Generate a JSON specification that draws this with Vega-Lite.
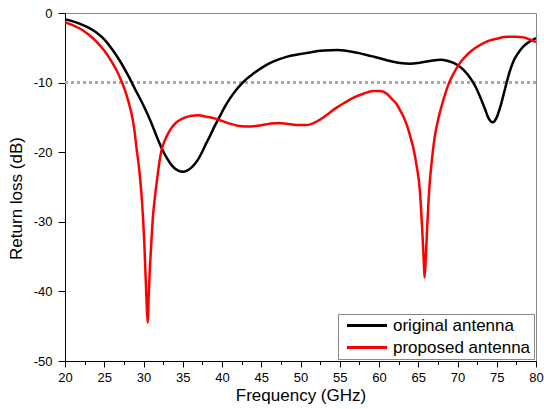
{
  "$schema": "https://vega.github.io/schema/vega-lite/v6.json",
  "width": 471,
  "height": 348,
  "autosize": {"type": "none"},
  "padding": {"left": 65, "top": 13, "right": 8, "bottom": 48},
  "background": "white",
  "config": {
    "view": {"stroke": "#888888", "strokeWidth": 1},
    "font": "Liberation Sans",
    "axis": {
      "domainColor": "#000000",
      "domainWidth": 1,
      "tickColor": "#000000",
      "labelColor": "#000000",
      "titleColor": "#000000",
      "labelFont": "Liberation Sans",
      "titleFont": "Liberation Sans",
      "labelFontSize": 13,
      "titleFontSize": 17,
      "titleFontWeight": "normal",
      "grid": false,
      "labelOverlap": false,
      "labelFlush": false
    }
  },
  "datasets": {
    "curves": [
      {"f": 20.0, "rl": -0.9, "s": "original antenna"},
      {"f": 21.0, "rl": -1.2, "s": "original antenna"},
      {"f": 22.0, "rl": -1.6, "s": "original antenna"},
      {"f": 23.0, "rl": -2.1, "s": "original antenna"},
      {"f": 24.0, "rl": -2.8, "s": "original antenna"},
      {"f": 25.0, "rl": -3.8, "s": "original antenna"},
      {"f": 26.0, "rl": -5.2, "s": "original antenna"},
      {"f": 27.0, "rl": -6.9, "s": "original antenna"},
      {"f": 28.0, "rl": -8.9, "s": "original antenna"},
      {"f": 29.0, "rl": -11.1, "s": "original antenna"},
      {"f": 30.0, "rl": -13.3, "s": "original antenna"},
      {"f": 31.0, "rl": -15.8, "s": "original antenna"},
      {"f": 31.7, "rl": -17.8, "s": "original antenna"},
      {"f": 32.3, "rl": -19.4, "s": "original antenna"},
      {"f": 33.0, "rl": -20.9, "s": "original antenna"},
      {"f": 33.6, "rl": -21.9, "s": "original antenna"},
      {"f": 34.2, "rl": -22.5, "s": "original antenna"},
      {"f": 35.0, "rl": -22.8, "s": "original antenna"},
      {"f": 35.6, "rl": -22.6, "s": "original antenna"},
      {"f": 36.2, "rl": -22.1, "s": "original antenna"},
      {"f": 36.8, "rl": -21.3, "s": "original antenna"},
      {"f": 37.5, "rl": -19.9, "s": "original antenna"},
      {"f": 38.0, "rl": -18.7, "s": "original antenna"},
      {"f": 38.5, "rl": -17.6, "s": "original antenna"},
      {"f": 39.0, "rl": -16.4, "s": "original antenna"},
      {"f": 39.7, "rl": -14.9, "s": "original antenna"},
      {"f": 40.3, "rl": -13.6, "s": "original antenna"},
      {"f": 41.0, "rl": -12.3, "s": "original antenna"},
      {"f": 41.7, "rl": -11.2, "s": "original antenna"},
      {"f": 42.4, "rl": -10.3, "s": "original antenna"},
      {"f": 43.1, "rl": -9.5, "s": "original antenna"},
      {"f": 44.0, "rl": -8.7, "s": "original antenna"},
      {"f": 45.3, "rl": -7.7, "s": "original antenna"},
      {"f": 46.5, "rl": -7.0, "s": "original antenna"},
      {"f": 48.2, "rl": -6.3, "s": "original antenna"},
      {"f": 50.0, "rl": -5.9, "s": "original antenna"},
      {"f": 51.5, "rl": -5.6, "s": "original antenna"},
      {"f": 53.0, "rl": -5.4, "s": "original antenna"},
      {"f": 54.6, "rl": -5.3, "s": "original antenna"},
      {"f": 56.0, "rl": -5.45, "s": "original antenna"},
      {"f": 57.6, "rl": -5.8, "s": "original antenna"},
      {"f": 59.0, "rl": -6.2, "s": "original antenna"},
      {"f": 60.1, "rl": -6.5, "s": "original antenna"},
      {"f": 61.4, "rl": -6.9, "s": "original antenna"},
      {"f": 62.7, "rl": -7.2, "s": "original antenna"},
      {"f": 64.0, "rl": -7.3, "s": "original antenna"},
      {"f": 65.2, "rl": -7.15, "s": "original antenna"},
      {"f": 66.5, "rl": -6.9, "s": "original antenna"},
      {"f": 67.8, "rl": -6.7, "s": "original antenna"},
      {"f": 68.8, "rl": -6.9, "s": "original antenna"},
      {"f": 69.9, "rl": -7.4, "s": "original antenna"},
      {"f": 70.8, "rl": -8.2, "s": "original antenna"},
      {"f": 71.6, "rl": -9.3, "s": "original antenna"},
      {"f": 72.3, "rl": -10.6, "s": "original antenna"},
      {"f": 72.9, "rl": -12.1, "s": "original antenna"},
      {"f": 73.5, "rl": -13.8, "s": "original antenna"},
      {"f": 73.9, "rl": -15.0, "s": "original antenna"},
      {"f": 74.5, "rl": -15.7, "s": "original antenna"},
      {"f": 75.0, "rl": -15.0, "s": "original antenna"},
      {"f": 75.5, "rl": -13.3, "s": "original antenna"},
      {"f": 76.1, "rl": -10.7, "s": "original antenna"},
      {"f": 76.6, "rl": -8.6, "s": "original antenna"},
      {"f": 77.1, "rl": -7.0, "s": "original antenna"},
      {"f": 77.7, "rl": -5.8, "s": "original antenna"},
      {"f": 78.4, "rl": -4.8, "s": "original antenna"},
      {"f": 79.2, "rl": -4.1, "s": "original antenna"},
      {"f": 80.0, "rl": -3.6, "s": "original antenna"},
      {"f": 20.0, "rl": -1.3, "s": "proposed antenna"},
      {"f": 21.0, "rl": -1.75, "s": "proposed antenna"},
      {"f": 22.0, "rl": -2.3, "s": "proposed antenna"},
      {"f": 23.0, "rl": -3.1, "s": "proposed antenna"},
      {"f": 24.0, "rl": -4.1, "s": "proposed antenna"},
      {"f": 25.0, "rl": -5.4, "s": "proposed antenna"},
      {"f": 26.0, "rl": -7.1, "s": "proposed antenna"},
      {"f": 26.6, "rl": -8.3, "s": "proposed antenna"},
      {"f": 27.2, "rl": -9.8, "s": "proposed antenna"},
      {"f": 27.7, "rl": -11.3, "s": "proposed antenna"},
      {"f": 28.1, "rl": -12.8, "s": "proposed antenna"},
      {"f": 28.5, "rl": -14.6, "s": "proposed antenna"},
      {"f": 28.8, "rl": -16.5, "s": "proposed antenna"},
      {"f": 29.1, "rl": -19.3, "s": "proposed antenna"},
      {"f": 29.5, "rl": -23.0, "s": "proposed antenna"},
      {"f": 29.8, "rl": -26.9, "s": "proposed antenna"},
      {"f": 30.1, "rl": -33.0, "s": "proposed antenna"},
      {"f": 30.3, "rl": -38.8, "s": "proposed antenna"},
      {"f": 30.45, "rl": -43.0, "s": "proposed antenna"},
      {"f": 30.55, "rl": -44.5, "s": "proposed antenna"},
      {"f": 30.65, "rl": -41.0, "s": "proposed antenna"},
      {"f": 30.8, "rl": -37.0, "s": "proposed antenna"},
      {"f": 31.0, "rl": -33.0, "s": "proposed antenna"},
      {"f": 31.2, "rl": -29.3, "s": "proposed antenna"},
      {"f": 31.45, "rl": -26.5, "s": "proposed antenna"},
      {"f": 31.7, "rl": -24.2, "s": "proposed antenna"},
      {"f": 32.0, "rl": -21.6, "s": "proposed antenna"},
      {"f": 32.3, "rl": -19.7, "s": "proposed antenna"},
      {"f": 32.8, "rl": -18.1, "s": "proposed antenna"},
      {"f": 33.4, "rl": -16.8, "s": "proposed antenna"},
      {"f": 34.2, "rl": -15.7, "s": "proposed antenna"},
      {"f": 35.1, "rl": -15.1, "s": "proposed antenna"},
      {"f": 36.0, "rl": -14.8, "s": "proposed antenna"},
      {"f": 37.0, "rl": -14.7, "s": "proposed antenna"},
      {"f": 38.0, "rl": -14.9, "s": "proposed antenna"},
      {"f": 38.9, "rl": -15.1, "s": "proposed antenna"},
      {"f": 40.0, "rl": -15.5, "s": "proposed antenna"},
      {"f": 41.0, "rl": -15.9, "s": "proposed antenna"},
      {"f": 42.0, "rl": -16.2, "s": "proposed antenna"},
      {"f": 43.0, "rl": -16.3, "s": "proposed antenna"},
      {"f": 44.5, "rl": -16.2, "s": "proposed antenna"},
      {"f": 46.1, "rl": -15.9, "s": "proposed antenna"},
      {"f": 47.2, "rl": -15.8, "s": "proposed antenna"},
      {"f": 48.2, "rl": -15.9, "s": "proposed antenna"},
      {"f": 49.5, "rl": -16.1, "s": "proposed antenna"},
      {"f": 50.8, "rl": -16.1, "s": "proposed antenna"},
      {"f": 51.7, "rl": -15.8, "s": "proposed antenna"},
      {"f": 52.5, "rl": -15.3, "s": "proposed antenna"},
      {"f": 53.5, "rl": -14.5, "s": "proposed antenna"},
      {"f": 54.6, "rl": -13.6, "s": "proposed antenna"},
      {"f": 55.6, "rl": -12.9, "s": "proposed antenna"},
      {"f": 56.7, "rl": -12.2, "s": "proposed antenna"},
      {"f": 58.0, "rl": -11.6, "s": "proposed antenna"},
      {"f": 59.3, "rl": -11.2, "s": "proposed antenna"},
      {"f": 60.2, "rl": -11.2, "s": "proposed antenna"},
      {"f": 61.0, "rl": -11.6, "s": "proposed antenna"},
      {"f": 61.6, "rl": -12.3, "s": "proposed antenna"},
      {"f": 62.2, "rl": -13.0, "s": "proposed antenna"},
      {"f": 62.7, "rl": -14.0, "s": "proposed antenna"},
      {"f": 63.2, "rl": -15.1, "s": "proposed antenna"},
      {"f": 63.6, "rl": -16.3, "s": "proposed antenna"},
      {"f": 64.0, "rl": -17.8, "s": "proposed antenna"},
      {"f": 64.4, "rl": -19.5, "s": "proposed antenna"},
      {"f": 64.8, "rl": -22.0, "s": "proposed antenna"},
      {"f": 65.2, "rl": -25.4, "s": "proposed antenna"},
      {"f": 65.5, "rl": -31.0, "s": "proposed antenna"},
      {"f": 65.7, "rl": -35.5, "s": "proposed antenna"},
      {"f": 65.8, "rl": -38.0, "s": "proposed antenna"},
      {"f": 65.95, "rl": -35.5, "s": "proposed antenna"},
      {"f": 66.1, "rl": -31.7, "s": "proposed antenna"},
      {"f": 66.4, "rl": -25.4, "s": "proposed antenna"},
      {"f": 66.7, "rl": -21.5, "s": "proposed antenna"},
      {"f": 67.1, "rl": -17.8, "s": "proposed antenna"},
      {"f": 67.6, "rl": -15.0, "s": "proposed antenna"},
      {"f": 68.2, "rl": -12.5, "s": "proposed antenna"},
      {"f": 68.8, "rl": -10.4, "s": "proposed antenna"},
      {"f": 69.5, "rl": -8.7, "s": "proposed antenna"},
      {"f": 70.3, "rl": -7.2, "s": "proposed antenna"},
      {"f": 71.2, "rl": -6.0, "s": "proposed antenna"},
      {"f": 72.3, "rl": -5.0, "s": "proposed antenna"},
      {"f": 73.7, "rl": -4.1, "s": "proposed antenna"},
      {"f": 75.0, "rl": -3.7, "s": "proposed antenna"},
      {"f": 76.3, "rl": -3.4, "s": "proposed antenna"},
      {"f": 77.4, "rl": -3.4, "s": "proposed antenna"},
      {"f": 78.4, "rl": -3.5, "s": "proposed antenna"},
      {"f": 79.2, "rl": -3.8, "s": "proposed antenna"},
      {"f": 80.0, "rl": -4.2, "s": "proposed antenna"}
    ]
  },
  "data": {"name": "curves"},
  "layer": [
    {
      "mark": {"type": "rule", "stroke": "#aaaaaa", "strokeWidth": 1.5, "strokeDash": [3, 3]},
      "encoding": {"y": {"datum": -10, "type": "quantitative"}}
    },
    {
      "mark": {"type": "line", "strokeWidth": 2.5, "interpolate": "monotone", "clip": true},
      "encoding": {
        "x": {
          "field": "f",
          "type": "quantitative",
          "scale": {"domain": [20, 80], "nice": false, "zero": false},
          "axis": {
            "title": "Frequency (GHz)",
            "values": [20, 22.5, 25, 27.5, 30, 32.5, 35, 37.5, 40, 42.5, 45, 47.5, 50, 52.5, 55, 57.5, 60, 62.5, 65, 67.5, 70, 72.5, 75, 77.5, 80],
            "labelExpr": "datum.value % 5 === 0 ? toString(datum.value) : ''",
            "tickSize": {"condition": {"test": "datum.value % 5 === 0", "value": 6}, "value": 3.5},
            "labelPadding": 4,
            "titlePadding": 3
          }
        },
        "y": {
          "field": "rl",
          "type": "quantitative",
          "scale": {"domain": [-50, 0], "nice": false, "zero": false},
          "axis": {
            "title": "Return loss (dB)",
            "values": [-50, -45, -40, -35, -30, -25, -20, -15, -10, -5, 0],
            "labelExpr": "datum.value % 10 === 0 ? toString(datum.value) : ''",
            "tickSize": {"condition": {"test": "datum.value % 10 === 0", "value": 7}, "value": 4.5},
            "labelPadding": 6,
            "titlePadding": 8,
            "titleY": 185
          }
        },
        "color": {
          "field": "s",
          "type": "nominal",
          "scale": {"domain": ["original antenna", "proposed antenna"], "range": ["#000000", "#ff0000"]},
          "legend": {
            "title": null,
            "orient": "none",
            "legendX": 273,
            "legendY": 301,
            "fillColor": "#ffffff",
            "strokeColor": "#888888",
            "padding": 3,
            "rowPadding": 4,
            "symbolType": "M-1.3,0H6.7",
            "symbolSize": 100,
            "symbolStrokeWidth": 3,
            "symbolOffset": 4,
            "labelFontSize": 17,
            "labelFont": "Liberation Sans",
            "labelColor": "#000000",
            "labelOffset": 31
          }
        }
      }
    }
  ]
}
